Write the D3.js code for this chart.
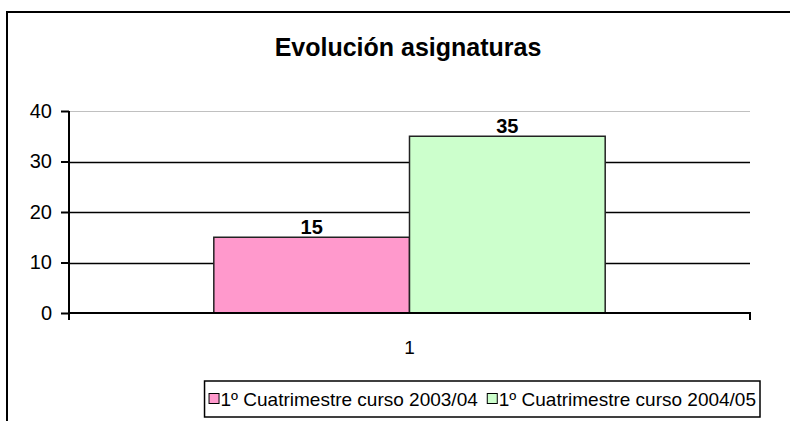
<!DOCTYPE html>
<html>
<head>
<meta charset="utf-8">
<script src="https://cdn.jsdelivr.net/npm/d3@7"></script>
<style>
  body { margin: 0; background: #fff; }
  svg { display: block; font-family: "Liberation Sans", Arial, sans-serif; }
</style>
</head>
<body>
<script>
// chart data
var categories = ["1"];
var seriesNames = ["1º Cuatrimestre curso 2003/04", "1º Cuatrimestre curso 2004/05"];
var seriesValues = [15, 35];
var seriesColors = ["#ff99cc", "#ccffcc"];
var yTicks = [0, 10, 20, 30, 40];

var width = 790,
    height = 421;

var svg = d3.select("body").append("svg")
    .attr("width", width)
    .attr("height", height);

// outer chart border (runs off the right and bottom edges)
svg.append("rect")
    .attr("x", 7)
    .attr("y", 12)
    .attr("width", 810)
    .attr("height", 430)
    .attr("fill", "#fff")
    .attr("stroke", "#000")
    .attr("stroke-width", 2);

svg.append("text")
    .attr("x", 408)
    .attr("y", 56)
    .attr("text-anchor", "middle")
    .style("font-size", "25px")
    .style("font-weight", "bold")
    .text("Evolución asignaturas");

var plot = { left: 69, right: 750, top: 111, bottom: 313 };

var y = d3.scaleLinear()
    .domain([0, 40])
    .range([plot.bottom, plot.top]);

var x0 = d3.scaleBand()
    .domain(categories)
    .range([plot.left, plot.right])
    .paddingInner(0)
    .paddingOuter(0);

var x1 = d3.scaleBand()
    .domain(seriesNames)
    .range([0, x0.bandwidth()])
    .paddingInner(0)
    .paddingOuter(0.74);

// gridlines
svg.append("g")
  .selectAll("line")
    .data(yTicks.filter(function(d) { return d > 0; }))
  .enter().append("line")
    .attr("x1", plot.left)
    .attr("x2", plot.right)
    .attr("y1", function(d) { return Math.round(y(d)) + 0.5; })
    .attr("y2", function(d) { return Math.round(y(d)) + 0.5; })
    .attr("stroke", function(d) { return d === 40 ? "#c0c0c0" : "#000"; })
    .attr("stroke-width", function(d) { return d === 40 ? 1 : 1.5; });

// bars
var g = svg.selectAll(".cat")
    .data(categories)
  .enter().append("g")
    .attr("class", "cat")
    .attr("transform", function(d) { return "translate(" + x0(d) + ",0)"; });

g.selectAll("rect")
    .data(seriesNames.map(function(n, i) { return { name: n, value: seriesValues[i], color: seriesColors[i] }; }))
  .enter().append("rect")
    .attr("x", function(d) { return x1(d.name); })
    .attr("y", function(d) { return y(d.value); })
    .attr("width", x1.bandwidth())
    .attr("height", function(d) { return plot.bottom - y(d.value); })
    .attr("fill", function(d) { return d.color; })
    .attr("stroke", "#222")
    .attr("stroke-width", 1.5);

g.selectAll(".lbl")
    .data(seriesNames.map(function(n, i) { return { name: n, value: seriesValues[i] }; }))
  .enter().append("text")
    .attr("class", "lbl")
    .attr("x", function(d) { return x1(d.name) + x1.bandwidth() / 2; })
    .attr("y", function(d) { return y(d.value) - 3; })
    .attr("text-anchor", "middle")
    .style("font-size", "20px")
    .style("font-weight", "bold")
    .text(function(d) { return d.value; });

// y axis
var yAxis = d3.axisLeft(y)
    .tickValues(yTicks)
    .tickSize(8)
    .tickPadding(9);

svg.append("g")
    .attr("transform", "translate(" + plot.left + ",0)")
    .call(yAxis)
    .call(function(s) {
      s.select(".domain").attr("d", "M0," + plot.top + "V" + (plot.bottom + 7)).attr("stroke-width", 2);
      s.selectAll(".tick line").attr("stroke-width", 2);
      s.selectAll("text").style("font-size", "20px").attr("fill", "#000").style("font-family", "Liberation Sans, Arial, sans-serif");
    });

// x axis
var xAxis = d3.axisBottom(x0)
    .tickSize(0)
    .tickPadding(28);

svg.append("g")
    .attr("transform", "translate(0," + plot.bottom + ")")
    .call(xAxis)
    .call(function(s) {
      s.select(".domain").attr("d", "M" + plot.left + ",0H" + plot.right + "V7").attr("stroke-width", 2);
      s.selectAll("text").style("font-size", "19px").attr("fill", "#000").style("font-family", "Liberation Sans, Arial, sans-serif");
    });

// legend, laid out from the measured text widths and anchored on its right edge
var legend = svg.append("g");
var legendBox = legend.append("rect")
    .attr("y", 381)
    .attr("height", 36)
    .attr("fill", "#fff")
    .attr("stroke", "#000")
    .attr("stroke-width", 1.5);

var items = legend.selectAll(".item")
    .data(seriesNames)
  .enter().append("g")
    .attr("class", "item");

items.append("rect")
    .attr("x", 0.5)
    .attr("y", -5.5)
    .attr("width", 10)
    .attr("height", 10)
    .attr("fill", function(d, i) { return seriesColors[i]; })
    .attr("stroke", "#000")
    .attr("stroke-width", 1);

items.append("text")
    .attr("x", 12)
    .attr("y", 7)
    .style("font-size", "19px")
    .text(function(d) { return d; });

var itemW = [];
items.each(function() { itemW.push(12 + d3.select(this).select("text").node().getComputedTextLength()); });
var gap = 9, pad = 4, right = 760;
var total = itemW[0] + gap + itemW[1];
var left = right - pad - total;
items.attr("transform", function(d, i) {
  var xx = i === 0 ? left : left + itemW[0] + gap;
  return "translate(" + xx + ",399)";
});
legendBox.attr("x", left - pad).attr("width", total + pad * 2);
</script>
</body>
</html>
